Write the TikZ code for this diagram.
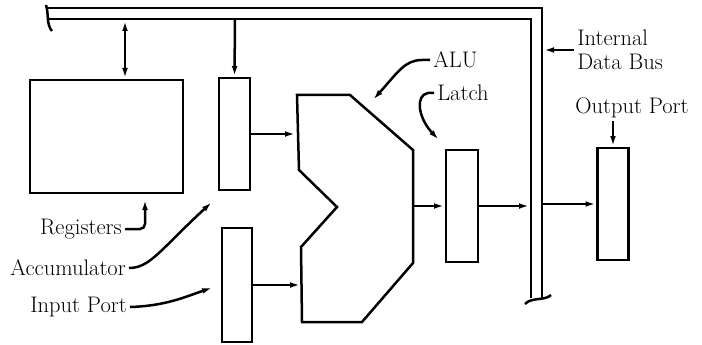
\documentclass[tikz,border=0pt]{standalone}
\usepackage{tikz}
\usetikzlibrary{arrows.meta, calc}

\begin{document}
\begin{tikzpicture}[x=1pt, y=-1pt, line width=2.5pt, >={Latex[length=12pt,width=5.5pt]},
    every node/.style={font=\fontsize{22.5}{24}\selectfont},
    blk/.style={draw, inner sep=0pt, outer sep=0pt},
    lbl/.style={inner sep=2pt}]
    \useasboundingbox (0,0) rectangle (702,345);

    % Internal data bus
    \coordinate (busTL) at (48,8);
    \coordinate (busIL) at (48,19);
    \coordinate (busO) at (542,298);
    \coordinate (busI) at (531,298);
    \draw (busTL) -- (busTL -| busO) -- (busO);
    \draw (busIL) -- (busIL -| busI) -- (busI);
    \draw (46,5) .. controls (49,14) and (46,24) .. (52,31);
    \draw (525,304) .. controls (531,297) and (545,301) .. (551,295);

    % Blocks
    \node[blk, minimum width=153pt, minimum height=113pt] (reg) at (106.5,136.5) {};
    \node[blk, minimum width=31pt, minimum height=112pt] (acc) at (234.5,134) {};
    \node[blk, minimum width=30pt, minimum height=114pt] (inp) at (237,285) {};
    \node[blk, minimum width=32pt, minimum height=112pt] (latch) at (462,206) {};
    \node[blk, minimum width=31pt, minimum height=112pt] (outp) at (613,204) {};

    % ALU
    \coordinate (a1) at (297,95);
    \coordinate (a2) at (350,95);
    \coordinate (a3) at (413,150);
    \coordinate (a4) at (413,263);
    \coordinate (a5) at (362,322);
    \coordinate (a6) at (302,322);
    \coordinate (a7) at (301,247);
    \coordinate (a8) at (337,207);
    \coordinate (a9) at (299,170);
    \draw (a1) -- (a2) -- (a3) -- (a4) -- (a5) -- (a6) -- (a7) -- (a8) -- (a9) -- cycle;

    % Data paths
    \coordinate (b1) at (125,19);
    \coordinate (b2) at (235,19);
    \draw[<->] (b1) -- (b1 |- reg.north);
    \draw[->] (b2) -- (acc.north);
    \draw[->] (acc.east) -- (acc.east -| a1);
    \draw[->] (inp.east) -- (inp.east -| a6);
    \draw[->] (latch.west -| a3) -- (latch.west);
    \draw[->] (latch.east) -- (latch.east -| busI);
    \draw[->] (outp.west -| busO) -- (outp.west);

    % Labels
    \node[lbl, anchor=west, align=left] (lbus) at (574,50) {Internal\\Data Bus};
    \node[lbl, anchor=west] (lalu) at (430,60) {ALU};
    \node[lbl, anchor=west] (llatch) at (434,93) {Latch};
    \node[lbl] (lout) at (632,108) {Output Port};
    \node[lbl, anchor=east] (lreg) at (125,229) {Registers};
    \node[lbl, anchor=east] (lacc) at (129,268) {Accumulator};
    \node[lbl, anchor=east] (linp) at (130,307) {Input Port};

    \coordinate (alutip) at (372,101);
    \coordinate (latchtip) at (440,141);
    \coordinate (regtip) at (145,198);
    \coordinate (acctip) at (213,201);
    \coordinate (inptip) at (214,287);

    \draw[->] (lbus.west) -- (lbus.west -| busO);
    \draw[->] (lalu.west) -- ++(-8,0) .. controls (405,60) and (398,72) .. (alutip);
    \draw[->] (llatch.west) -- ++(-6,0) .. controls (415,95) and (418,118) .. (latchtip);
    \draw[->] (outp.north |- lout.south) -- (outp.north);
    \draw[->, rounded corners=5pt] (lreg.east) -| (regtip);
    \draw[->] (lacc.east) .. controls (150,268) and (160,250) .. (acctip);
    \draw[->] (linp.east) .. controls (165,306) and (185,297) .. (inptip);
\end{tikzpicture}
\end{document}
